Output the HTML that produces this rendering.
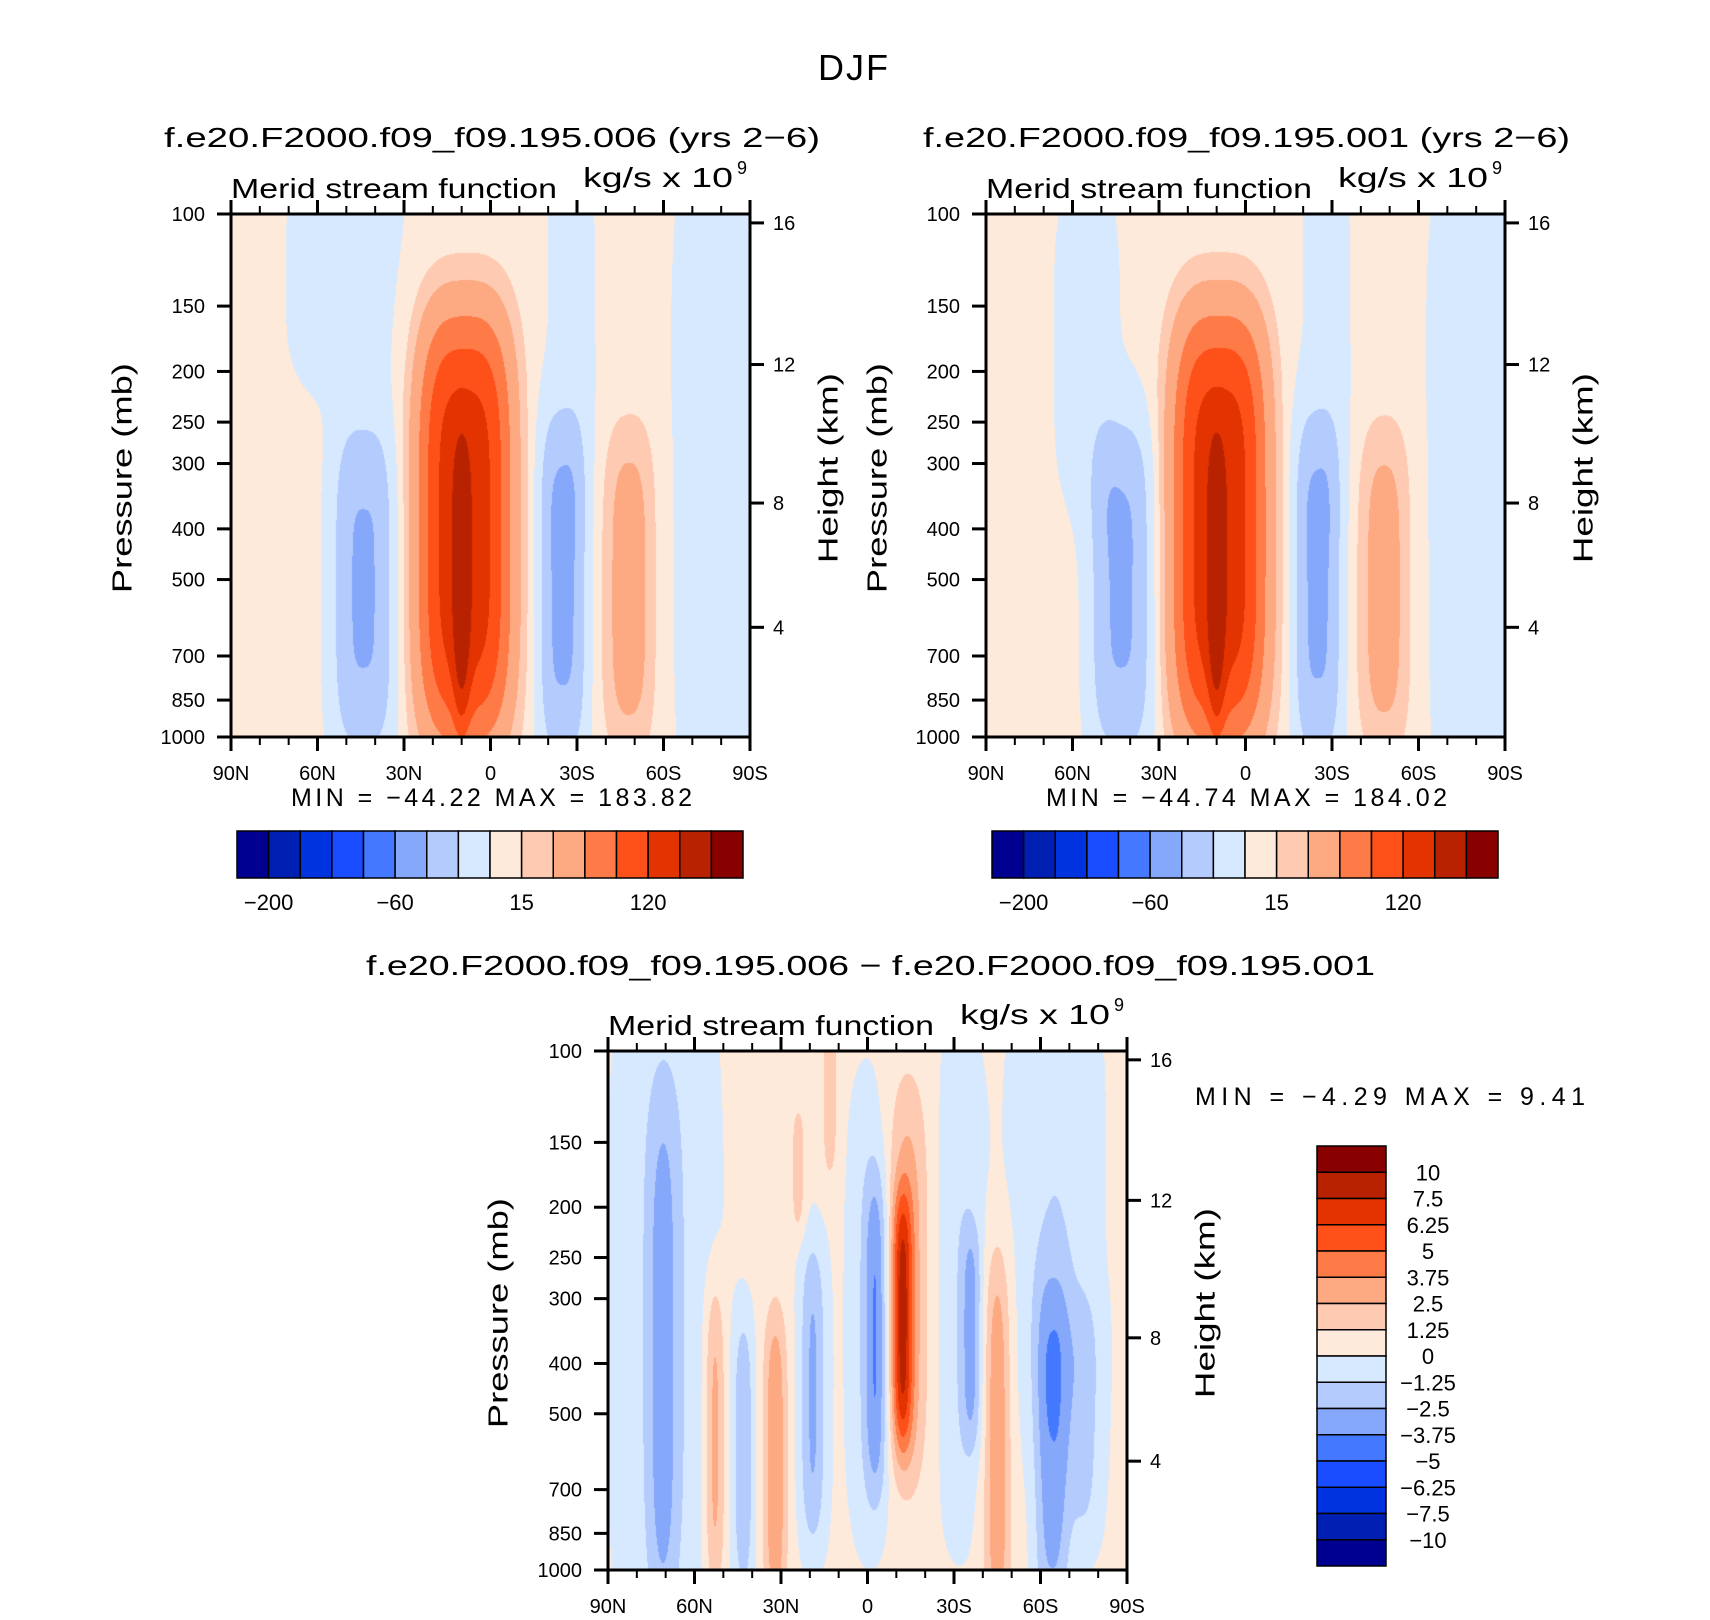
<!DOCTYPE html>
<html><head><meta charset="utf-8">
<style>
html,body{margin:0;padding:0;background:#fff;}
#root{position:relative;width:1710px;height:1620px;overflow:hidden;font-family:"Liberation Sans",sans-serif;}
canvas{position:absolute;}
svg{position:absolute;left:0;top:0;}
</style></head>
<body>
<div id="root">
<canvas id="c0"></canvas>
<canvas id="c1"></canvas>
<canvas id="c2"></canvas>
<svg id="ov" width="1710" height="1620" xmlns="http://www.w3.org/2000/svg"></svg>
</div>
<script>
// ---- colour levels ----
const topLevels = [-200,-150,-100,-80,-60,-40,-20,0,15,30,60,90,120,150,200];
const diffLevels = [-10,-7.5,-6.25,-5,-3.75,-2.5,-1.25,0,1.25,2.5,3.75,5,6.25,7.5,10];
const colors = ['#000090','#0020b4','#0033e0','#1a4dff','#4479ff','#85a8fb','#b3cbfd','#d7e9fe','#feeadb','#fecab2','#fdaa82','#fe7b48','#fe5019','#e23300','#b82200','#880000'];
const topBarLabels = ['-200','-60','15','120'];
const topBarLabelIdx = [1,5,9,13];
const diffBarLabels = ['10','7.5','6.25','5','3.75','2.5','1.25','0','-1.25','-2.5','-3.75','-5','-6.25','-7.5','-10'];
// ---- axes ----
const presTicks = [100,150,200,250,300,400,500,700,850,1000];
const heightTicks = [16,12,8,4];
const heightPres = [104,194,357,617];
const latTicks = [90,60,30,0,-30,-60,-90];
const latTickLabels = ['90N','60N','30N','0','30S','60S','90S'];
// ---- panel 1 (006) circulation cells ----
const p1Base = 4;
const p1Lat = [9, 10, 44, -25, -48, 50, -78, -28];
const p1Pres = [400, 540, 520, 520, 520, 130, 316, 158];
const p1Amp = [135, 50, -46, -48, 36, -12, -10, -8];
const p1LatW = [16.6, 3, 11, 8.5, 9, 20, 16, 10];
const p1Depth = [0.42, 0.3, 0.33, 0.34, 0.32, 0.25, 0.7, 0.4];
const p1Shape = [3, 2, 3, 3, 2.5, 2, 3, 2];
// ---- panel 2 (001) ----
const p2Base = 4;
const p2Lat = [9, 10, 43, -25, -48, 55, -78, -28];
const p2Pres = [400, 540, 520, 520, 520, 178, 316, 158];
const p2Amp = [136, 50, -46, -47, 35, -10, -10, -8];
const p2LatW = [16.6, 3, 11, 8.5, 9, 12, 16, 10];
const p2Depth = [0.42, 0.3, 0.33, 0.34, 0.32, 0.35, 0.7, 0.4];
const p2Shape = [3, 2, 3, 3, 2.5, 2, 3, 2];
// ---- panel 3 (difference) ----
const p3Base = 0.3;
const p3Lat = [71, 70, 13, 53, 43, 32, 24, 19, -3, 0, -12, -14, -36, -32, -45, -64, -75, -65];
const p3Pres = [400, 316, 120, 560, 600, 620, 170, 457, 355, 316, 330, 282, 355, 282, 560, 600, 520, 200];
const p3Amp = [-2.3, -1.5, 1.6, 2.9, -2.6, 3.4, 1.6, -3.0, -3.3, -1.2, 5.4, 2.8, -2.6, -1.2, 3.4, -3.2, -1.8, -1.5];
const p3LatW = [5, 16, 3, 3.5, 3.5, 4, 2.5, 4.5, 4, 7, 3.5, 7, 3.5, 8, 4.5, 6, 6, 14];
const p3Depth = [0.5, 0.7, 0.18, 0.3, 0.27, 0.3, 0.13, 0.3, 0.32, 0.45, 0.25, 0.4, 0.22, 0.5, 0.37, 0.35, 0.25, 0.5];
const p3Shape = [2,2,2,2,2,2,2,2,2,2,2,2,2,2,2,2.5,2,2];

const panels = [
 {id:'c0', x:231, y:214, w:519, h:523, base:p1Base, lat:p1Lat, pres:p1Pres, amp:p1Amp, lw:p1LatW, dp:p1Depth, sh:p1Shape, lev:topLevels, name:'006'},
 {id:'c1', x:986, y:214, w:519, h:523, base:p2Base, lat:p2Lat, pres:p2Pres, amp:p2Amp, lw:p2LatW, dp:p2Depth, sh:p2Shape, lev:topLevels, name:'001'},
 {id:'c2', x:608, y:1051, w:519, h:519, base:p3Base, lat:p3Lat, pres:p3Pres, amp:p3Amp, lw:p3LatW, dp:p3Depth, sh:p3Shape, lev:diffLevels, name:'diff'}
];
function xOfLat(P, lat){ return P.x + (90 - lat) / 180 * P.w; }
function yOfPres(P, p){ return P.y + Math.log10(p / 100) * P.h; }
function hex(c){ return [parseInt(c.slice(1,3),16),parseInt(c.slice(3,5),16),parseInt(c.slice(5,7),16)]; }
const rgb = colors.map(hex);

panels.forEach(P => {
  const cv = document.getElementById(P.id);
  cv.width = P.w; cv.height = P.h;
  cv.style.left = P.x + 'px'; cv.style.top = P.y + 'px';
  const ctx = cv.getContext('2d');
  const img = ctx.createImageData(P.w, P.h);
  const n = P.lat.length;
  const uc = P.pres.map(p => Math.log10(p / 100));
  for (let j = 0; j < P.h; j++) {
    const u = (j + 0.5) / P.h;
    const vf = [];
    for (let k = 0; k < n; k++) { const d = (u - uc[k]) / P.dp[k]; vf.push(P.amp[k] * Math.exp(-(d*d*d*d))); }
    for (let i = 0; i < P.w; i++) {
      const lat = 90 - (i + 0.5) / P.w * 180;
      let v = P.base;
      for (let k = 0; k < n; k++) {
        const d = Math.abs((lat - P.lat[k]) / P.lw[k]);
        v += vf[k] * Math.exp(-Math.pow(d, P.sh[k]));
      }
      let idx = 0;
      while (idx < P.lev.length && v >= P.lev[idx]) idx++;
      const c = rgb[idx], o = (j * P.w + i) * 4;
      img.data[o]=c[0]; img.data[o+1]=c[1]; img.data[o+2]=c[2]; img.data[o+3]=255;
    }
  }
  ctx.putImageData(img, 0, 0);
});

const NS = 'http://www.w3.org/2000/svg';
const ov = document.getElementById('ov');
function el(tag, attrs, parent){ const e = document.createElementNS(NS, tag); for (const k in attrs) e.setAttribute(k, attrs[k]); (parent||ov).appendChild(e); return e; }
function txt(s, x, y, size, anchor, extra){
  const t = el('text', Object.assign({x:x, y:y, 'font-size':size, 'text-anchor':anchor||'middle', fill:'#000', 'font-family':'Liberation Sans, sans-serif'}, extra||{}));
  t.textContent = s; return t;
}

let t;
t = txt('DJF', 853, 80, 36, 'middle', {textLength:70});


t = txt('f.e20.F2000.f09_f09.195.006 (yrs 2\u22126)', 164, 147, 28, 'start', {textLength:656, lengthAdjust:'spacingAndGlyphs'});


t = txt('f.e20.F2000.f09_f09.195.001 (yrs 2\u22126)', 923, 147, 28, 'start', {textLength:647, lengthAdjust:'spacingAndGlyphs'});


t = txt('f.e20.F2000.f09_f09.195.006 \u2212 f.e20.F2000.f09_f09.195.001', 366, 975, 28, 'start', {textLength:1009, lengthAdjust:'spacingAndGlyphs'});



const minmax = ['MIN = \u221244.22   MAX = 183.82', 'MIN = \u221244.74   MAX = 184.02'];

panels.forEach((P, pi) => {
  const g = el('g', {});
  
  
  let s = txt('Merid stream function', P.x, P.y - 16, 28, 'start', {textLength:326, lengthAdjust:'spacingAndGlyphs'});
  g.appendChild(s);
  
  
  s = txt('kg/s x 10', P.x + 352, P.y - 27, 28, 'start', {textLength:150, lengthAdjust:'spacingAndGlyphs'});
  g.appendChild(s);
  
  
  s = txt('9', P.x + 506, P.y - 40, 18, 'start');
  g.appendChild(s);
  
  
  const fr = el('rect', {x:P.x, y:P.y, width:P.w, height:P.h, fill:'none', stroke:'#000', 'stroke-width':3}, g);
  
  
  for (let lat = 90; lat >= -90; lat -= 10) {
    const x = xOfLat(P, lat), major = lat % 30 === 0, L = major ? 14 : 8;
    const a = el('line', {x1:x, x2:x, y1:P.y + P.h, y2:P.y + P.h + L, stroke:'#000', 'stroke-width':major?3:2}, g);
    
    
    const b = el('line', {x1:x, x2:x, y1:P.y, y2:P.y - L, stroke:'#000', 'stroke-width':major?3:2}, g);
    
    
  }
  latTicks.forEach((lat, k) => {
    const l = txt(latTickLabels[k], xOfLat(P, lat), P.y + P.h + 43, 20, 'middle');
    g.appendChild(l);
    
    
  });
  presTicks.forEach(p => {
    const y = yOfPres(P, p);
    const a = el('line', {x1:P.x - 14, x2:P.x, y1:y, y2:y, stroke:'#000', 'stroke-width':3}, g);
    
    
    const l = txt(String(p), P.x - 26, y + 7, 20, 'end');
    g.appendChild(l);
    
    
  });
  heightTicks.forEach((h, k) => {
    const y = yOfPres(P, heightPres[k]);
    const a = el('line', {x1:P.x + P.w, x2:P.x + P.w + 14, y1:y, y2:y, stroke:'#000', 'stroke-width':3}, g);
    
    
    const l = txt(String(h), P.x + P.w + 23, y + 7, 20, 'start');
    g.appendChild(l);
    
    
  });
  const cy = P.y + P.h * 0.505;
  const px = pi === 2 ? 500 : P.x - 107;
  const hx = pi === 2 ? 1207 : P.x + P.w + 80;
  let yt = txt('Pressure (mb)', px, cy, 28, 'middle', {transform:'rotate(-90 ' + px + ' ' + cy + ')', textLength:230, lengthAdjust:'spacingAndGlyphs', 'dominant-baseline':'middle'});
  g.appendChild(yt);
  
  
  yt = txt('Height (km)', hx, cy - 10, 28, 'middle', {transform:'rotate(-90 ' + hx + ' ' + (cy - 10) + ')', textLength:190, lengthAdjust:'spacingAndGlyphs', 'dominant-baseline':'middle'});
  g.appendChild(yt);
  
  

  if (pi < 2) {
    const mm = txt(minmax[pi], P.x + P.w / 2 + 1, 806, 25, 'middle', {textLength:401, 'xml:space':'preserve'});
    g.appendChild(mm);
    
    
    const bx = pi === 0 ? 237 : 992, bw = 506 / 16;
    for (let k = 0; k < 16; k++) {
      const r = el('rect', {x:bx + k * bw, y:831, width:bw, height:47, fill:colors[k], stroke:'#000', 'stroke-width':1.5}, g);
      
      
    }
    topBarLabelIdx.forEach((b, k) => {
      const l = txt(topBarLabels[k].replace('-', '\u2212'), bx + b * bw, 910, 22, 'middle');
      g.appendChild(l);
      
      
    });
  }
});

const mm3 = txt('MIN =    \u22124.29   MAX =     9.41', 1195, 1105, 25, 'start', {textLength:390, 'xml:space':'preserve'});


const lg = el('g', {});


const lbh = 420 / 16;
for (let k = 0; k < 16; k++) {
  const r = el('rect', {x:1317, y:1146 + k * lbh, width:69, height:lbh, fill:colors[15 - k], stroke:'#000', 'stroke-width':1.5}, lg);
  
  
}
diffBarLabels.forEach((s, k) => {
  const l = txt(s.replace('-', '\u2212'), 1428, 1146 + (k + 1) * lbh + 8, 22, 'middle');
  lg.appendChild(l);
  
  
});
</script>
</body></html>
